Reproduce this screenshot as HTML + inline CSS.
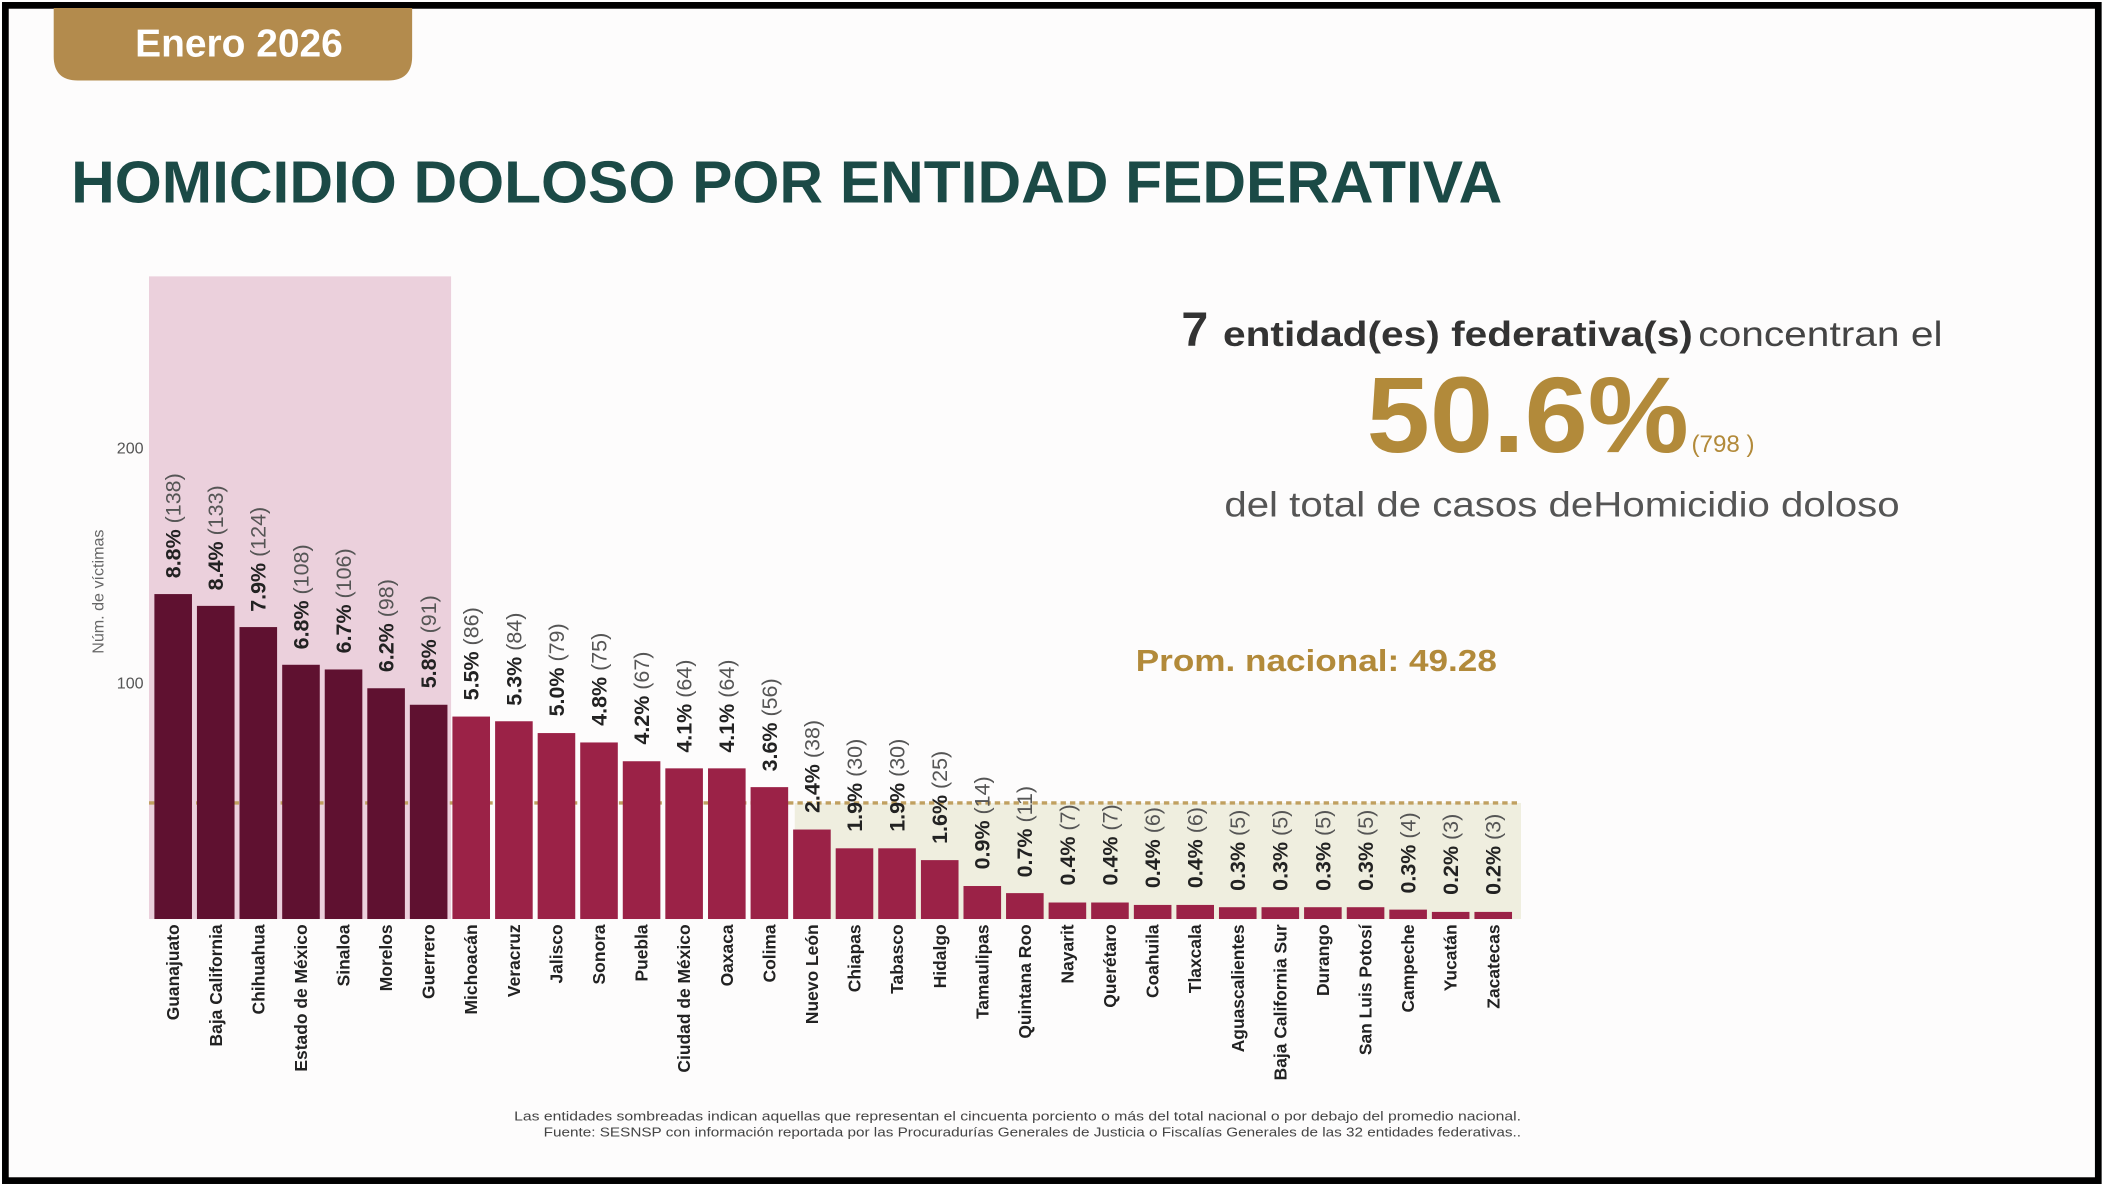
<!DOCTYPE html>
<html><head><meta charset="utf-8"><style>
html,body{margin:0;padding:0;background:#fff;}
svg{display:block;}
</style></head><body>
<svg width="2105" height="1186" viewBox="0 0 1568 884" preserveAspectRatio="none" xmlns="http://www.w3.org/2000/svg" font-family="Liberation Sans, DejaVu Sans, sans-serif">
<rect x="0" y="0" width="1568" height="884" fill="#fff"/>
<rect x="4" y="4" width="1559" height="876" fill="#fdfcfc" stroke="#000" stroke-width="5"/>
<path d="M40 6 H307 V42 Q307 60 289 60 H58 Q40 60 40 42 Z" fill="#b38b4d"/>
<text x="178" y="42" font-size="29" font-weight="bold" fill="#fff" text-anchor="middle">Enero 2026</text>
<text x="53" y="151" font-size="44" font-weight="bold" fill="#1b4a46" textLength="1066" lengthAdjust="spacingAndGlyphs">HOMICIDIO DOLOSO POR ENTIDAD FEDERATIVA</text>

<rect x="111" y="206" width="225" height="479" fill="#ebd0dc"/>
<rect x="592" y="598.5" width="541" height="86.5" fill="#efeedf"/>
<line x1="111" y1="598.5" x2="1133" y2="598.5" stroke="#c0a060" stroke-width="2.5" stroke-dasharray="4,3"/>

<text x="107" y="338" font-size="12" fill="#555" text-anchor="end">200</text>
<text x="107" y="513" font-size="12" fill="#555" text-anchor="end">100</text>
<text transform="translate(77,441) rotate(-90)" font-size="12" fill="#666" text-anchor="middle">Núm. de víctimas</text>

<g fill="#5f1130">
<rect x="115" y="442.8" width="28" height="242.2"/>
<rect x="146.7" y="451.6" width="28" height="233.4"/>
<rect x="178.4" y="467.4" width="28" height="217.6"/>
<rect x="210.2" y="495.5" width="28" height="189.5"/>
<rect x="241.9" y="499" width="28" height="186"/>
<rect x="273.6" y="513" width="28" height="172"/>
<rect x="305.3" y="525.3" width="28" height="159.7"/>
</g>
<g fill="#9b2247">
<rect x="337" y="534.1" width="28" height="150.9"/>
<rect x="368.8" y="537.6" width="28" height="147.4"/>
<rect x="400.5" y="546.4" width="28" height="138.6"/>
<rect x="432.2" y="553.4" width="28" height="131.6"/>
<rect x="463.9" y="567.4" width="28" height="117.6"/>
<rect x="495.6" y="572.7" width="28" height="112.3"/>
<rect x="527.4" y="572.7" width="28" height="112.3"/>
<rect x="559.1" y="586.7" width="28" height="98.3"/>
<rect x="590.8" y="618.3" width="28" height="66.7"/>
<rect x="622.5" y="632.3" width="28" height="52.7"/>
<rect x="654.2" y="632.3" width="28" height="52.7"/>
<rect x="686" y="641.1" width="28" height="43.9"/>
<rect x="717.7" y="660.4" width="28" height="24.6"/>
<rect x="749.4" y="665.7" width="28" height="19.3"/>
<rect x="781.1" y="672.7" width="28" height="12.3"/>
<rect x="812.8" y="672.7" width="28" height="12.3"/>
<rect x="844.6" y="674.5" width="28" height="10.5"/>
<rect x="876.3" y="674.5" width="28" height="10.5"/>
<rect x="908" y="676.2" width="28" height="8.8"/>
<rect x="939.7" y="676.2" width="28" height="8.8"/>
<rect x="971.4" y="676.2" width="28" height="8.8"/>
<rect x="1003.2" y="676.2" width="28" height="8.8"/>
<rect x="1034.9" y="678" width="28" height="7"/>
<rect x="1066.6" y="679.7" width="28" height="5.3"/>
<rect x="1098.3" y="679.7" width="28" height="5.3"/>
</g>

<g font-size="16" fill="#222">
<text transform="translate(134.5,431) rotate(-90)"><tspan font-weight="bold">8.8%</tspan><tspan fill="#555"> (138)</tspan></text>
<text transform="translate(166.2,440) rotate(-90)"><tspan font-weight="bold">8.4%</tspan><tspan fill="#555"> (133)</tspan></text>
<text transform="translate(197.9,456) rotate(-90)"><tspan font-weight="bold">7.9%</tspan><tspan fill="#555"> (124)</tspan></text>
<text transform="translate(229.7,484) rotate(-90)"><tspan font-weight="bold">6.8%</tspan><tspan fill="#555"> (108)</tspan></text>
<text transform="translate(261.4,487) rotate(-90)"><tspan font-weight="bold">6.7%</tspan><tspan fill="#555"> (106)</tspan></text>
<text transform="translate(293.1,501) rotate(-90)"><tspan font-weight="bold">6.2%</tspan><tspan fill="#555"> (98)</tspan></text>
<text transform="translate(324.8,513) rotate(-90)"><tspan font-weight="bold">5.8%</tspan><tspan fill="#555"> (91)</tspan></text>
<text transform="translate(356.5,522) rotate(-90)"><tspan font-weight="bold">5.5%</tspan><tspan fill="#555"> (86)</tspan></text>
<text transform="translate(388.3,526) rotate(-90)"><tspan font-weight="bold">5.3%</tspan><tspan fill="#555"> (84)</tspan></text>
<text transform="translate(420,534) rotate(-90)"><tspan font-weight="bold">5.0%</tspan><tspan fill="#555"> (79)</tspan></text>
<text transform="translate(451.7,541) rotate(-90)"><tspan font-weight="bold">4.8%</tspan><tspan fill="#555"> (75)</tspan></text>
<text transform="translate(483.4,555) rotate(-90)"><tspan font-weight="bold">4.2%</tspan><tspan fill="#555"> (67)</tspan></text>
<text transform="translate(515.1,561) rotate(-90)"><tspan font-weight="bold">4.1%</tspan><tspan fill="#555"> (64)</tspan></text>
<text transform="translate(546.9,561) rotate(-90)"><tspan font-weight="bold">4.1%</tspan><tspan fill="#555"> (64)</tspan></text>
<text transform="translate(578.6,575) rotate(-90)"><tspan font-weight="bold">3.6%</tspan><tspan fill="#555"> (56)</tspan></text>
<text transform="translate(610.3,606) rotate(-90)"><tspan font-weight="bold">2.4%</tspan><tspan fill="#555"> (38)</tspan></text>
<text transform="translate(642,620) rotate(-90)"><tspan font-weight="bold">1.9%</tspan><tspan fill="#555"> (30)</tspan></text>
<text transform="translate(673.7,620) rotate(-90)"><tspan font-weight="bold">1.9%</tspan><tspan fill="#555"> (30)</tspan></text>
<text transform="translate(705.5,629) rotate(-90)"><tspan font-weight="bold">1.6%</tspan><tspan fill="#555"> (25)</tspan></text>
<text transform="translate(737.2,648) rotate(-90)"><tspan font-weight="bold">0.9%</tspan><tspan fill="#555"> (14)</tspan></text>
<text transform="translate(768.9,654) rotate(-90)"><tspan font-weight="bold">0.7%</tspan><tspan fill="#555"> (11)</tspan></text>
<text transform="translate(800.6,660) rotate(-90)"><tspan font-weight="bold">0.4%</tspan><tspan fill="#555"> (7)</tspan></text>
<text transform="translate(832.3,660) rotate(-90)"><tspan font-weight="bold">0.4%</tspan><tspan fill="#555"> (7)</tspan></text>
<text transform="translate(864.1,662) rotate(-90)"><tspan font-weight="bold">0.4%</tspan><tspan fill="#555"> (6)</tspan></text>
<text transform="translate(895.8,662) rotate(-90)"><tspan font-weight="bold">0.4%</tspan><tspan fill="#555"> (6)</tspan></text>
<text transform="translate(927.5,664) rotate(-90)"><tspan font-weight="bold">0.3%</tspan><tspan fill="#555"> (5)</tspan></text>
<text transform="translate(959.2,664) rotate(-90)"><tspan font-weight="bold">0.3%</tspan><tspan fill="#555"> (5)</tspan></text>
<text transform="translate(990.9,664) rotate(-90)"><tspan font-weight="bold">0.3%</tspan><tspan fill="#555"> (5)</tspan></text>
<text transform="translate(1022.7,664) rotate(-90)"><tspan font-weight="bold">0.3%</tspan><tspan fill="#555"> (5)</tspan></text>
<text transform="translate(1054.4,666) rotate(-90)"><tspan font-weight="bold">0.3%</tspan><tspan fill="#555"> (4)</tspan></text>
<text transform="translate(1086.1,667) rotate(-90)"><tspan font-weight="bold">0.2%</tspan><tspan fill="#555"> (3)</tspan></text>
<text transform="translate(1117.8,667) rotate(-90)"><tspan font-weight="bold">0.2%</tspan><tspan fill="#555"> (3)</tspan></text>
</g>

<g font-size="13" font-weight="bold" fill="#222" text-anchor="end">
<text transform="translate(133.5,689) rotate(-90)">Guanajuato</text>
<text transform="translate(165.2,689) rotate(-90)">Baja California</text>
<text transform="translate(196.9,689) rotate(-90)">Chihuahua</text>
<text transform="translate(228.7,689) rotate(-90)">Estado de México</text>
<text transform="translate(260.4,689) rotate(-90)">Sinaloa</text>
<text transform="translate(292.1,689) rotate(-90)">Morelos</text>
<text transform="translate(323.8,689) rotate(-90)">Guerrero</text>
<text transform="translate(355.5,689) rotate(-90)">Michoacán</text>
<text transform="translate(387.3,689) rotate(-90)">Veracruz</text>
<text transform="translate(419,689) rotate(-90)">Jalisco</text>
<text transform="translate(450.7,689) rotate(-90)">Sonora</text>
<text transform="translate(482.4,689) rotate(-90)">Puebla</text>
<text transform="translate(514.1,689) rotate(-90)">Ciudad de México</text>
<text transform="translate(545.9,689) rotate(-90)">Oaxaca</text>
<text transform="translate(577.6,689) rotate(-90)">Colima</text>
<text transform="translate(609.3,689) rotate(-90)">Nuevo León</text>
<text transform="translate(641,689) rotate(-90)">Chiapas</text>
<text transform="translate(672.7,689) rotate(-90)">Tabasco</text>
<text transform="translate(704.5,689) rotate(-90)">Hidalgo</text>
<text transform="translate(736.2,689) rotate(-90)">Tamaulipas</text>
<text transform="translate(767.9,689) rotate(-90)">Quintana Roo</text>
<text transform="translate(799.6,689) rotate(-90)">Nayarit</text>
<text transform="translate(831.3,689) rotate(-90)">Querétaro</text>
<text transform="translate(863.1,689) rotate(-90)">Coahuila</text>
<text transform="translate(894.8,689) rotate(-90)">Tlaxcala</text>
<text transform="translate(926.5,689) rotate(-90)">Aguascalientes</text>
<text transform="translate(958.2,689) rotate(-90)">Baja California Sur</text>
<text transform="translate(989.9,689) rotate(-90)">Durango</text>
<text transform="translate(1021.7,689) rotate(-90)">San Luis Potosí</text>
<text transform="translate(1053.4,689) rotate(-90)">Campeche</text>
<text transform="translate(1085.1,689) rotate(-90)">Yucatán</text>
<text transform="translate(1116.8,689) rotate(-90)">Zacatecas</text>
</g>

<text x="880" y="258" font-size="36" font-weight="bold" fill="#333">7</text>
<text x="911" y="258" font-size="26" font-weight="bold" fill="#333" textLength="350" lengthAdjust="spacingAndGlyphs">entidad(es) federativa(s)</text>
<text x="1265" y="258" font-size="26" fill="#444" textLength="182" lengthAdjust="spacingAndGlyphs">concentran el</text>
<text x="1018" y="337" font-size="80" font-weight="bold" fill="#b28a3a" textLength="240" lengthAdjust="spacingAndGlyphs">50.6%</text>
<text x="1260" y="337" font-size="18" fill="#b28a3a">(798 )</text>
<text x="912" y="385" font-size="26" fill="#555" textLength="503" lengthAdjust="spacingAndGlyphs">del total de casos deHomicidio doloso</text>
<text x="846" y="500" font-size="23" font-weight="bold" fill="#b28a3a" textLength="269" lengthAdjust="spacingAndGlyphs">Prom. nacional: 49.28</text>

<text x="383" y="835" font-size="9.5" fill="#444" textLength="750" lengthAdjust="spacingAndGlyphs">Las entidades sombreadas indican aquellas que representan el cincuenta porciento o más del total nacional o por debajo del promedio nacional.</text>
<text x="405" y="847" font-size="9.5" fill="#444" textLength="728" lengthAdjust="spacingAndGlyphs">Fuente: SESNSP con información reportada por las Procuradurías Generales de Justicia o Fiscalías Generales de las 32 entidades federativas..</text>
</svg>
</body></html>
